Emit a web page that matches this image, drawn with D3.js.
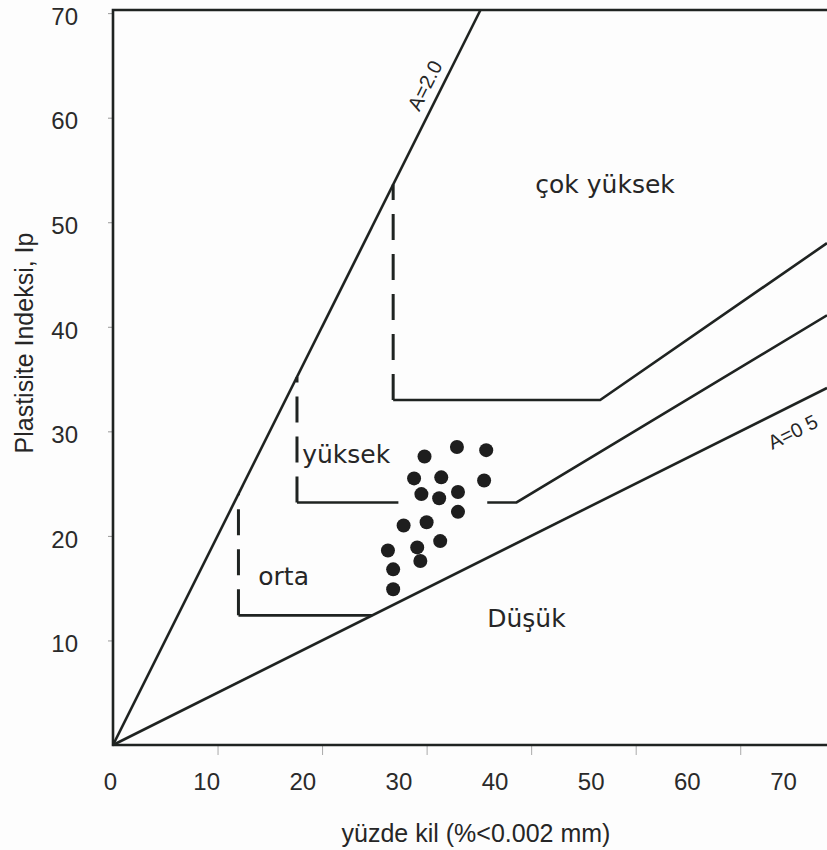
<!DOCTYPE html>
<html>
<head>
  <title>Aktivite abağı</title>
  <script src="https://d3js.org/d3.v7.min.js"></script>
  <style>
    body { margin: 0; background: #fdfdfd; }
    svg { display: block; background: #fdfdfd; }
    .tick text { font-family: "Liberation Sans", Arial, sans-serif; font-size: 24px; fill: #2a2a2a; }
    .frame, .bound { fill: none; stroke: #1f2321; stroke-width: 2.6; }
    .dash { fill: none; stroke: #1f2321; stroke-width: 3; stroke-dasharray: 26,14; }
    .dot { fill: #1e1e1e; }
    .region { font-family: "DejaVu Sans", sans-serif; font-size: 25px; fill: #262626; }
    .aLabel { font-family: "Liberation Sans", Arial, sans-serif; font-size: 20px; fill: #262626; }
    .title { font-family: "Liberation Sans", Arial, sans-serif; font-size: 25px; fill: #262626; }
  </style>
</head>
<body>
<script>
var width = 827, height = 850;

// axis ticks
var xTicks = [0, 10, 20, 30, 40, 50, 60, 70];
var yTicks = [10, 20, 30, 40, 50, 60, 70];

// clay % and plasticity index of the samples
var clayPct    = [29.8, 32.9, 35.7, 28.8, 31.4, 35.5, 29.5, 31.2, 33.0, 33.0, 27.8, 30.0, 31.3, 26.3, 29.1, 29.4, 26.8, 26.8];
var plasticity = [27.6, 28.5, 28.2, 25.5, 25.6, 25.3, 24.0, 23.6, 24.2, 22.3, 21.0, 21.3, 19.5, 18.6, 18.9, 17.6, 16.8, 14.9];

// activity lines A = Ip / clay
var lineA2  = [[0, 0], [35.15, 70.3]];
var lineA05 = [[0, 0], [68.3, 34.15]];

// class boundaries: vertical dashed part, then solid part
var vHigh = [[26.8, 33.0], [26.8, 53.6]];
var sHigh = [[26.8, 33.0], [46.6, 33.0], [68.3, 48.0]];
var vMid  = [[17.6, 23.2], [17.6, 35.2]];
var sMid1 = [[17.6, 23.2], [27.3, 23.2]];
var sMid2 = [[35.8, 23.2], [38.6, 23.2], [68.3, 41.1]];
var vLow  = [[12.0, 12.4], [12.0, 24.0]];
var sLow  = [[12.0, 12.4], [24.8, 12.4]];

var regionNames = ["çok yüksek", "yüksek", "orta", "Düşük"];

var svg = d3.select("body").append("svg")
  .attr("width", width).attr("height", height);

var x = d3.scaleLinear().domain([0, 68.3]).range([113, 827]);
var y = d3.scaleLinear().domain([0, 70.3]).range([745, 10]);
// printed tick labels do not sit on the tick marks in the original
var xLab = d3.scaleLinear().domain([0, 70]).range([110, 783]);

var line = d3.line().x(function(d) { return x(d[0]); }).y(function(d) { return y(d[1]); });

// tick marks
var gx = svg.append("g").attr("transform", "translate(0,745)")
  .call(d3.axisBottom(x).tickValues(xTicks.slice(1, 7)).tickSize(10).tickFormat(""));
gx.select(".domain").remove();
gx.selectAll("line").attr("stroke", "#aaa");

var gxl = svg.append("g").attr("transform", "translate(0,745)")
  .call(d3.axisBottom(xLab).tickValues(xTicks).tickSize(0).tickPadding(28));
gxl.select(".domain").remove();

var gy = svg.append("g").attr("transform", "translate(113,0)")
  .call(d3.axisLeft(y).tickValues(yTicks).tickSize(5).tickPadding(30));
gy.select(".domain").remove();
gy.selectAll("line").attr("stroke", "#999");
gy.selectAll("text").attr("dy", "0.47em");

// frame
svg.append("path").attr("class", "frame")
  .attr("d", "M" + x(68.3) + "," + y(70.3) + "H" + x(0) + "V" + y(0) + "H" + x(68.3));

[lineA2, lineA05, sHigh, sMid1, sMid2, sLow].forEach(function(p) {
  svg.append("path").attr("class", "bound").attr("d", line(p));
});
[vHigh, vMid, vLow].forEach(function(p) {
  svg.append("path").attr("class", "dash").attr("d", line(p));
});

// samples
svg.selectAll(".dot")
  .data(clayPct.map(function(c, i) { return [c, plasticity[i]]; }))
  .enter().append("circle")
  .attr("class", "dot")
  .attr("r", 7)
  .attr("cx", function(d) { return x(d[0]); })
  .attr("cy", function(d) { return y(d[1]); });

// region names
var regionAt = [[40.4, 52.8], [18.1, 27.0], [13.9, 15.3], [35.8, 11.3]];
svg.selectAll(".region")
  .data(regionNames)
  .enter().append("text")
  .attr("class", "region")
  .attr("x", function(d, i) { return x(regionAt[i][0]); })
  .attr("y", function(d, i) { return y(regionAt[i][1]); })
  .text(function(d) { return d; });

// labels along the activity lines
function angle(l) {
  return Math.atan2(y(l[1][1]) - y(l[0][1]), x(l[1][0]) - x(l[0][0])) * 180 / Math.PI;
}
svg.append("text").attr("class", "aLabel")
  .attr("text-anchor", "middle")
  .attr("transform", "translate(" + x(31.2) + "," + y(62.4) + ") rotate(" + angle(lineA2) + ")")
  .attr("dy", -9)
  .text("A=2.0");
svg.append("text").attr("class", "aLabel")
  .attr("text-anchor", "middle")
  .attr("transform", "translate(" + x(64.0) + "," + y(32.0) + ") rotate(" + angle(lineA05) + ")")
  .attr("dy", 31)
  .text("A=0 5");

// axis titles
svg.append("text").attr("class", "title")
  .attr("text-anchor", "middle")
  .attr("x", 476).attr("y", 842)
  .text("yüzde kil (%<0.002 mm)");
svg.append("text").attr("class", "title")
  .attr("text-anchor", "middle")
  .attr("transform", "translate(33,343) rotate(-90)")
  .text("Plastisite Indeksi, Ip");
</script>
</body>
</html>
